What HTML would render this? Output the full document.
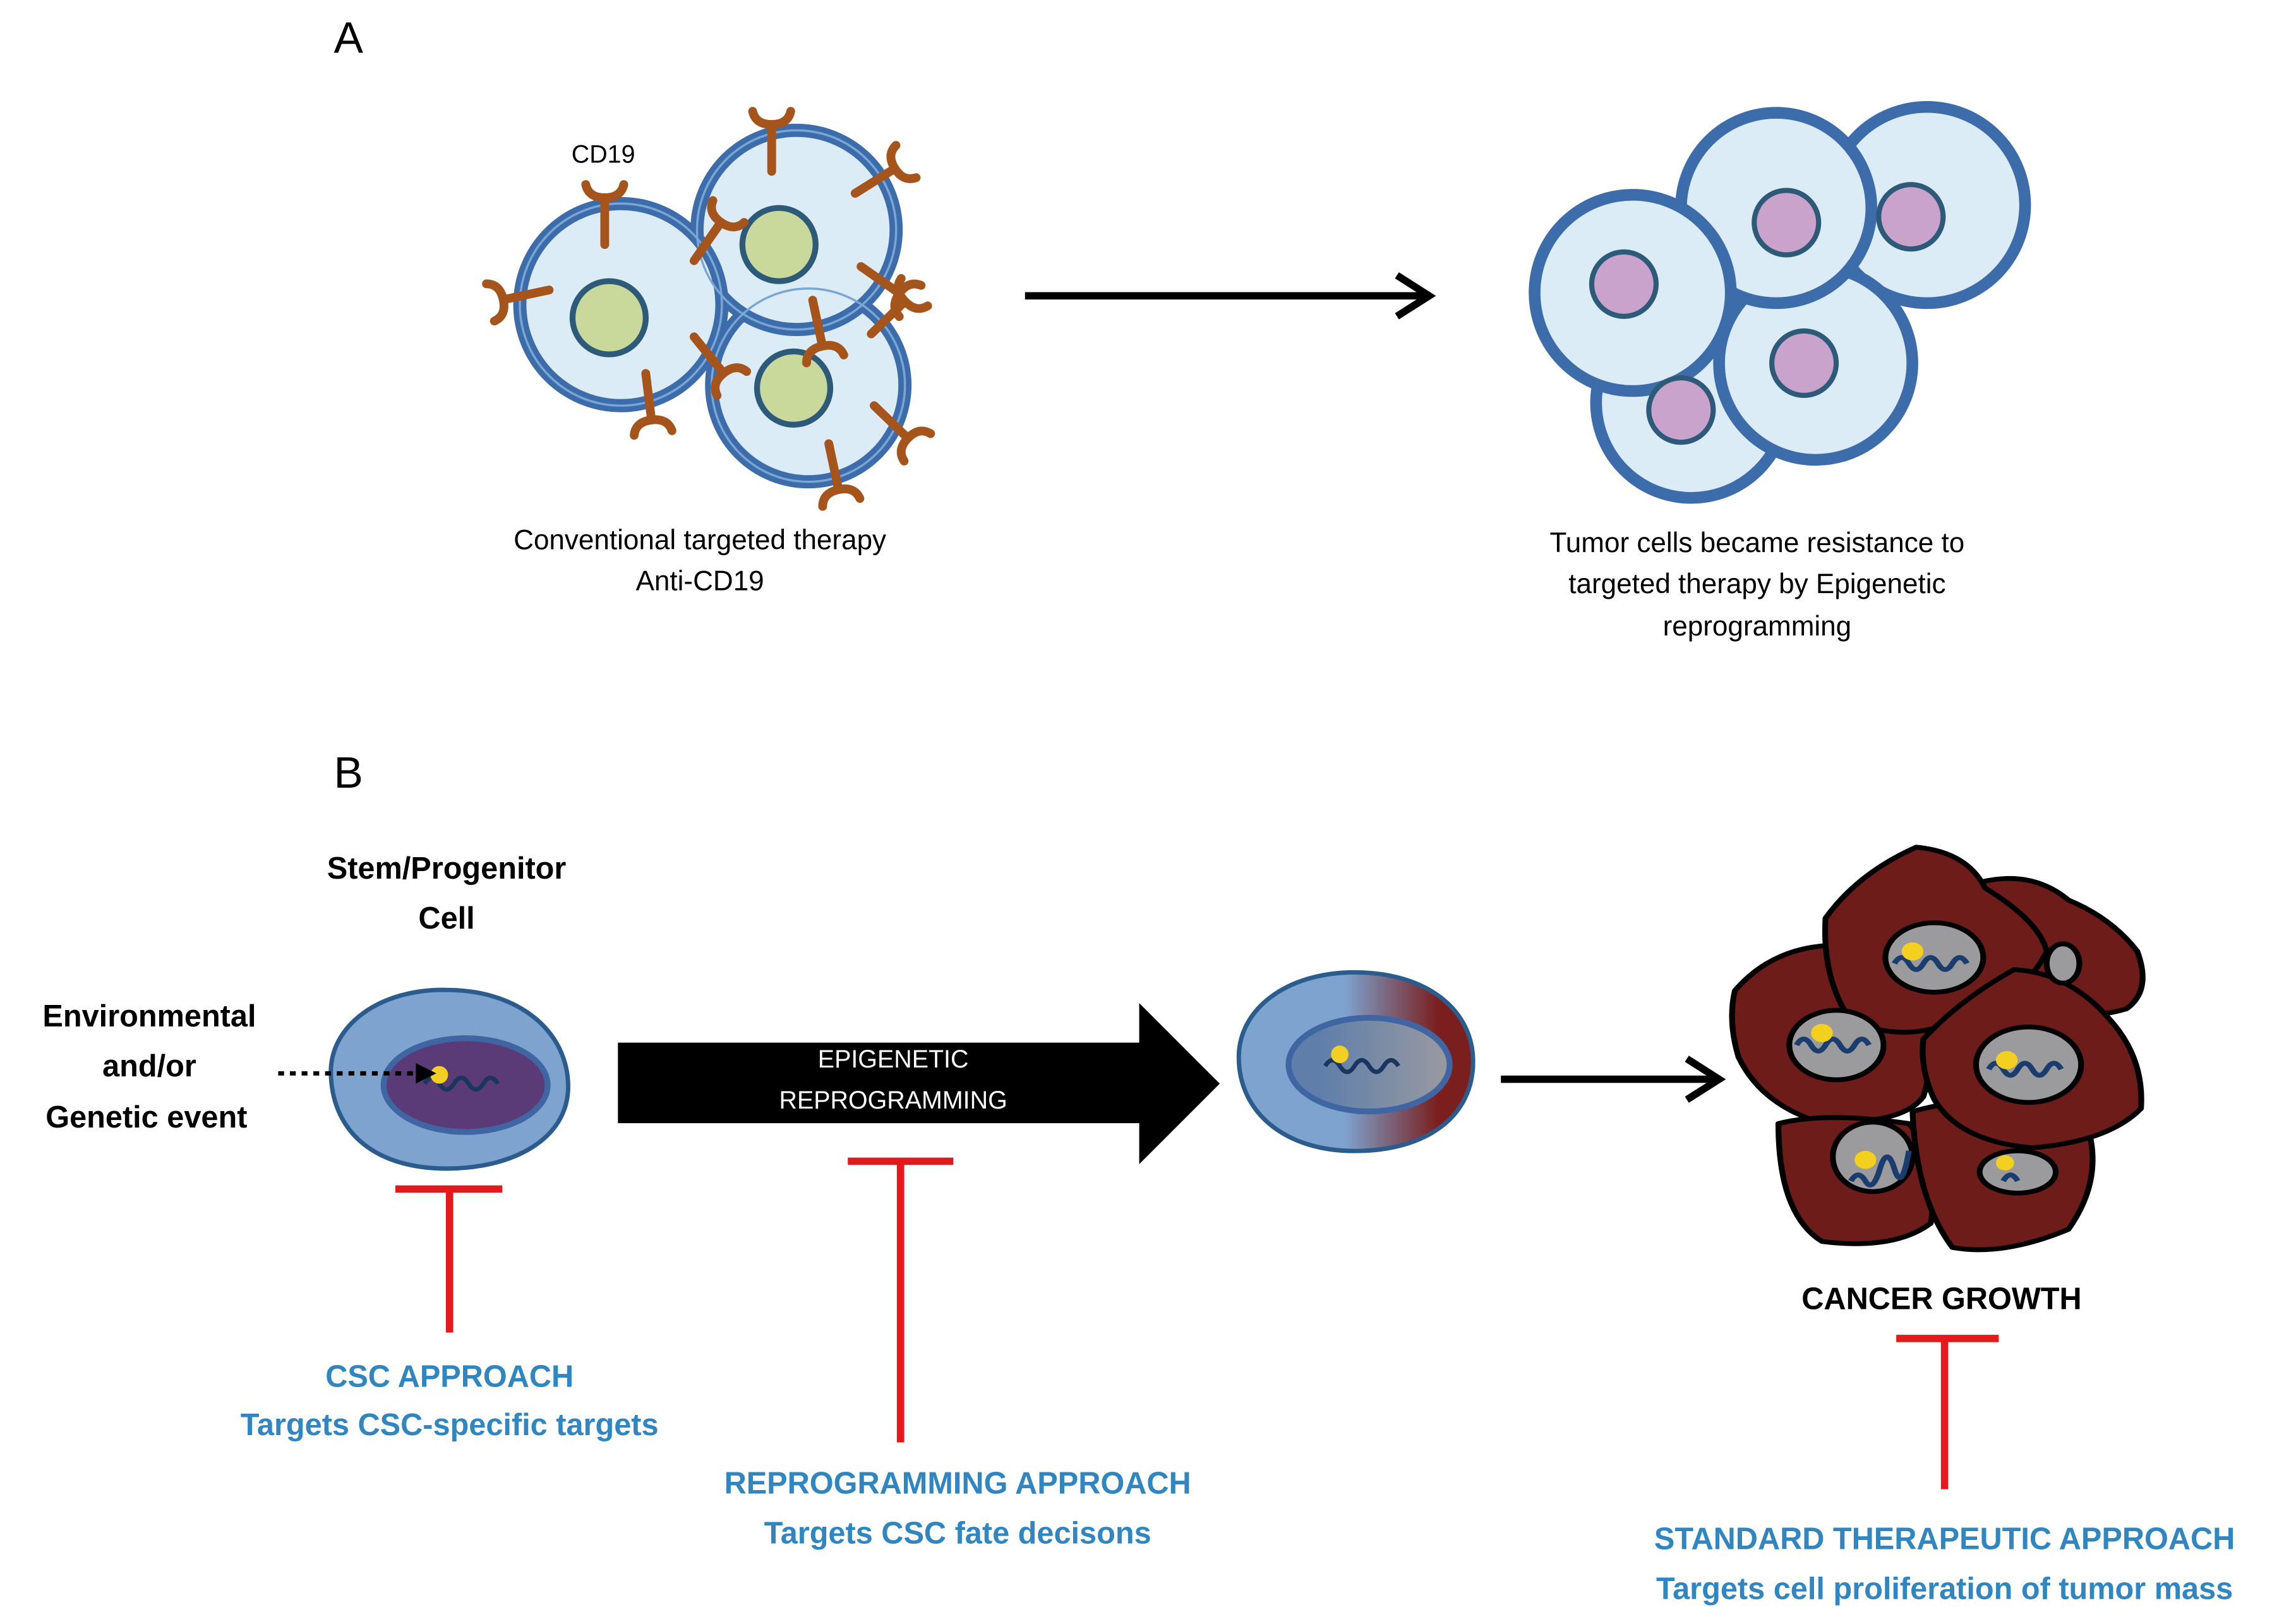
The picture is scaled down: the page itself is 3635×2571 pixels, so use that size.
<!DOCTYPE html>
<html><head><meta charset="utf-8"><style>
html,body{margin:0;padding:0;background:#fff}
svg{display:block}
text{font-family:"Liberation Sans",Arial,sans-serif}
</style></head><body>
<svg width="3635" height="2571" viewBox="0 0 1568 1109" xmlns="http://www.w3.org/2000/svg">
<defs>
<g id="ab" stroke="#a5541c" stroke-width="6" stroke-linecap="round" fill="none">
<path d="M0,0 L0,-32"/>
<path d="M-13,-41 Q-11,-32 0,-32 Q11,-32 13,-41"/>
</g>
<linearGradient id="mid" x1="0" y1="0" x2="1" y2="0">
<stop offset="0.45" stop-color="#7ea3cf"/><stop offset="0.85" stop-color="#7a1f1e"/></linearGradient>
<linearGradient id="midn" x1="0" y1="0" x2="1" y2="0">
<stop offset="0.2" stop-color="#5f7faa"/><stop offset="1" stop-color="#9a9aa0"/></linearGradient>
<marker id="ah" markerWidth="10" markerHeight="10" refX="8" refY="5" orient="auto" markerUnits="userSpaceOnUse">
</marker>
</defs>

<text x="238" y="36" font-size="30" text-anchor="middle">A</text>

<!-- A left cells -->
<g stroke="#3d6cab" stroke-width="9" fill="#dcecf6">
<circle cx="552" cy="263" r="66"/>
<circle cx="544" cy="157" r="68"/>
<circle cx="424" cy="208" r="69"/>
</g>
<g stroke="#7aa6d6" stroke-width="1.5" fill="none">
<circle cx="552" cy="263" r="66"/><circle cx="544" cy="157" r="68"/><circle cx="424" cy="208" r="69"/>
</g>
<g stroke="#2e5a7a" stroke-width="4" fill="#c8d99b">
<circle cx="416" cy="217" r="25"/><circle cx="532" cy="167" r="25"/><circle cx="542" cy="265" r="25"/>
</g>
<use href="#ab" transform="translate(413,167)"/>
<use href="#ab" transform="translate(375,198) rotate(-102)"/>
<use href="#ab" transform="translate(527,117)"/>
<use href="#ab" transform="translate(584,132) rotate(58)"/>
<use href="#ab" transform="translate(474,178) rotate(35)"/>
<use href="#ab" transform="translate(588,182) rotate(125)"/>
<use href="#ab" transform="translate(595,228) rotate(46)"/>
<use href="#ab" transform="translate(555,205) rotate(168)"/>
<use href="#ab" transform="translate(474,230) rotate(141)"/>
<use href="#ab" transform="translate(441,255) rotate(173)"/>
<use href="#ab" transform="translate(597,277) rotate(134)"/>
<use href="#ab" transform="translate(566,303) rotate(168)"/>
<text x="412" y="111" font-size="17" text-anchor="middle">CD19</text>

<text x="478" y="375" font-size="19" text-anchor="middle">Conventional  targeted therapy</text>
<text x="478" y="403" font-size="19" text-anchor="middle">Anti-CD19</text>

<!-- arrow A -->
<line x1="700" y1="202" x2="974" y2="202" stroke="#000" stroke-width="5"/>
<path d="M954,188 L976,202 L954,216" stroke="#000" stroke-width="5" fill="none" stroke-linejoin="miter"/>

<!-- A right cells -->
<g stroke="#3d6cab" stroke-width="8" fill="#dcecf6">
<circle cx="1316" cy="140" r="67"/>
<circle cx="1155" cy="275" r="65"/>
<circle cx="1240" cy="248" r="66"/>
<circle cx="1213" cy="142" r="65"/>
<circle cx="1115" cy="200" r="67"/>
</g>
<g stroke="#2e5a7a" stroke-width="3.5" fill="#c9a3cb">
<circle cx="1305" cy="148" r="22"/><circle cx="1148" cy="280" r="22"/><circle cx="1232" cy="248" r="22"/>
<circle cx="1220" cy="152" r="22"/><circle cx="1109" cy="194" r="22"/>
</g>
<text x="1200" y="377" font-size="19" text-anchor="middle">Tumor cells  became resistance  to</text>
<text x="1200" y="405" font-size="19" text-anchor="middle">targeted therapy by Epigenetic</text>
<text x="1200" y="434" font-size="19" text-anchor="middle">reprogramming</text>

<!-- B -->
<text x="238" y="538" font-size="30" text-anchor="middle">B</text>
<g font-size="21" font-weight="bold" text-anchor="middle">
<text x="305" y="600">Stem/Progenitor</text>
<text x="305" y="634">Cell</text>
<text x="102" y="701">Environmental</text>
<text x="102" y="735">and/or</text>
<text x="100" y="770">Genetic event</text>
<text x="1326" y="894">CANCER GROWTH</text>
</g>

<!-- stem cell -->
<path d="M226,735 C224,700 260,675 305,676 C355,676 388,705 388,742 C388,778 350,798 305,798 C258,798 228,775 226,735Z" fill="#7fa3cf" stroke="#2b5c8e" stroke-width="3"/>
<ellipse cx="318" cy="741" rx="56" ry="32" fill="#5b3a78" stroke="#3f66a3" stroke-width="4"/>
<path d="M290,740 q5,-8 10,0 t10,0 t10,0 t10,0 t10,0" stroke="#1a3560" stroke-width="3" fill="none"/>
<circle cx="300" cy="734" r="6" fill="#f2cf25"/>
<line x1="190" y1="733" x2="288" y2="733" stroke="#000" stroke-width="3" stroke-dasharray="4,4"/>
<path d="M284,726 L298,733 L284,740Z" fill="#000"/>

<!-- big arrow -->
<path d="M422,712 L778,712 L778,685 L833,740 L778,795 L778,767 L422,767Z" fill="#000"/>
<text x="610" y="729" font-size="17" fill="#fff" text-anchor="middle">EPIGENETIC</text>
<text x="610" y="757" font-size="17" fill="#fff" text-anchor="middle">REPROGRAMMING</text>

<!-- middle cell -->
<path d="M846,722 C846,688 880,664 925,664 C975,664 1006,690 1006,725 C1006,762 975,786 925,786 C878,786 846,760 846,722Z" fill="url(#mid)" stroke="#2b5c8e" stroke-width="3"/>
<ellipse cx="935" cy="727" rx="55" ry="32" fill="url(#midn)" stroke="#3f66a3" stroke-width="4"/>
<path d="M905,728 q5,-8 10,0 t10,0 t10,0 t10,0 t10,0" stroke="#1a3560" stroke-width="3" fill="none"/>
<circle cx="915" cy="720" r="6" fill="#f2cf25"/>

<line x1="1025" y1="737" x2="1172" y2="737" stroke="#000" stroke-width="5"/>
<path d="M1152,723 L1174,737 L1152,751" stroke="#000" stroke-width="5" fill="none"/>

<!-- cancer cluster -->
<g transform="translate(1165,561) scale(0.2476,0.2063)" fill="#6e1c1a" stroke="#000" stroke-width="16" stroke-linejoin="round">
<path d="M760,200 Q900,160 1000,260 Q1120,320 1190,430 Q1230,560 1160,620 Q1050,660 950,620 Q840,560 780,470Z"/>
<path d="M80,560 Q180,420 340,410 Q500,430 590,580 Q640,760 600,910 Q540,1010 300,990 Q150,930 90,780 Q60,660 80,560Z"/>
<path d="M200,1000 Q330,960 560,1000 Q650,1130 620,1330 Q520,1420 320,1390 Q200,1300 200,1000Z"/>
<path d="M570,960 Q800,880 1050,1000 Q1100,1180 1000,1350 Q820,1440 680,1410 Q580,1250 570,960Z"/>
<path d="M330,320 Q420,170 580,85 Q720,100 770,220 Q920,330 940,430 Q880,580 700,650 Q560,740 400,660 Q320,520 330,320Z"/>
<path d="M600,720 Q700,590 850,490 Q1000,500 1110,650 Q1210,780 1200,950 Q1110,1060 900,1080 Q700,1060 630,920 Q590,820 600,720Z"/>
</g>
<g transform="translate(1165,561) scale(0.2476,0.2063)" fill="#9b9b9d" stroke="#000" stroke-width="16">
<ellipse cx="985" cy="470" rx="45" ry="65"/>
<ellipse cx="630" cy="450" rx="135" ry="115"/>
<ellipse cx="360" cy="740" rx="130" ry="115"/>
<ellipse cx="890" cy="805" rx="145" ry="125"/>
<ellipse cx="460" cy="1110" rx="110" ry="115"/>
<ellipse cx="860" cy="1160" rx="105" ry="70"/>
</g>
<g transform="translate(1165,561) scale(0.2476,0.2063)" fill="none" stroke="#1b3d6e" stroke-width="16">
<path d="M520,470 q20,-40 40,0 t40,0 t40,0 t40,0 t40,0"/>
<path d="M250,740 q20,-40 40,0 t40,0 t40,0 t40,0 t40,0"/>
<path d="M780,820 q20,-40 40,0 t40,0 t40,0 t40,0 t40,0"/>
<path d="M400,1190 q20,-40 40,0 t40,-40 t40,0 t40,-60"/>
<path d="M820,1190 q20,-40 40,0"/>
</g>
<g transform="translate(1165,561) scale(0.2476,0.2063)" fill="#f3d020">
<circle cx="570" cy="430" r="30"/><circle cx="320" cy="700" r="30"/><circle cx="830" cy="790" r="30"/>
<circle cx="440" cy="1120" r="30"/><circle cx="825" cy="1130" r="25"/>
</g>

<!-- red T's -->
<g stroke="#e3191b" stroke-width="5">
<line x1="270" y1="812" x2="343" y2="812"/><line x1="307" y1="812" x2="307" y2="910"/>
<line x1="579" y1="793" x2="651" y2="793"/><line x1="615" y1="793" x2="615" y2="985"/>
<line x1="1295" y1="914" x2="1365" y2="914"/><line x1="1328" y1="914" x2="1328" y2="1017"/>
</g>
<g font-size="21" font-weight="bold" fill="#2f86c0" text-anchor="middle">
<text x="307" y="947">CSC APPROACH</text>
<text x="307" y="980">Targets CSC-specific targets</text>
<text x="654" y="1020">REPROGRAMMING APPROACH</text>
<text x="654" y="1054">Targets CSC fate decisons</text>
<text x="1328" y="1058">STANDARD THERAPEUTIC APPROACH</text>
<text x="1328" y="1092">Targets cell proliferation of tumor mass</text>
</g>
</svg>
</body></html>
